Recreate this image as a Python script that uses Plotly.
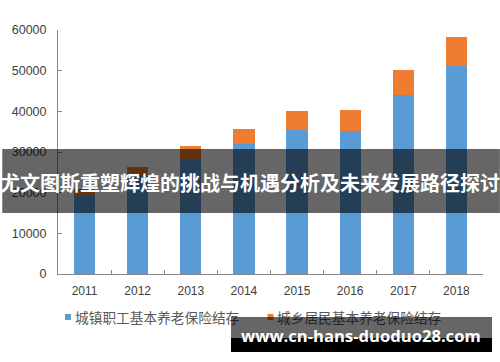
import plotly.graph_objects as go

# ---- data ----
years = ["2011", "2012", "2013", "2014", "2015", "2016", "2017", "2018"]
urban_workers = [19500, 24100, 28400, 31900, 35500, 35100, 43900, 51100]   # 城镇职工基本养老保险结存
rural_residents = [1300, 2200, 3000, 3650, 4500, 5350, 6350, 7100]        # 城乡居民基本养老保险结存
series_names = ["城镇职工基本养老保险结存", "城乡居民基本养老保险结存"]
y_ticks = [0, 10000, 20000, 30000, 40000, 50000, 60000]
banner_text = "尤文图斯重塑辉煌的挑战与机遇分析及未来发展路径探讨"
watermark_text = "www.cn-hans-duoduo28.com"

BLUE = "#5b9bd5"
ORANGE = "#ed7d31"
AXIS = "#898989"
TICKTXT = "#404040"

W, H = 500, 362
L, R, T, B = 56, 17, 30, 88
PW, PH = W - L - R, H - T - B


def px_x(x):
    return (x - L) / PW


def px_y(y):
    return (H - B - y) / PH


fig = go.Figure()
fig.add_trace(go.Bar(x=years, y=urban_workers, name=series_names[0],
                     marker=dict(color=BLUE, line=dict(width=0))))
fig.add_trace(go.Bar(x=years, y=rural_residents, name=series_names[1],
                     marker=dict(color=ORANGE, line=dict(width=0))))

shapes = []
annotations = []

# legend (drawn by hand so the small squares match)
leg = [(series_names[0], BLUE, 63, 73), (series_names[1], ORANGE, 266.5, 276)]
for name, col, sx, tx in leg:
    shapes.append(dict(type="rect", xref="paper", yref="paper",
                       x0=px_x(sx), x1=px_x(sx + 6), y0=px_y(320), y1=px_y(314),
                       fillcolor=col, line=dict(width=0), layer="above"))
    annotations.append(dict(text=name, xref="paper", yref="paper",
                            x=px_x(tx), y=px_y(316.5), xanchor="left", yanchor="middle",
                            showarrow=False, borderpad=0, borderwidth=0,
                            font=dict(family="Noto Sans CJK SC", size=13.7, color="#595959")))

# banner across the middle
shapes.append(dict(type="rect", xref="paper", yref="paper",
                   x0=px_x(0), x1=px_x(500), y0=px_y(213), y1=px_y(149),
                   fillcolor="rgba(0,0,0,0.6)", line=dict(width=0), layer="above"))
annotations.append(dict(text=banner_text, xref="paper", yref="paper",
                        x=px_x(249), y=px_y(182), xanchor="center", yanchor="middle",
                        showarrow=False, borderpad=0, borderwidth=0,
                        font=dict(family="Noto Sans CJK SC", size=20, color="white", weight="bold")))

# watermark box (annotations so it sits over the legend text)
annotations.append(dict(text=" ", xref="paper", yref="paper",
                        x=px_x(230), y=px_y(316.7), xanchor="left", yanchor="top",
                        width=261, height=21.6, showarrow=False, borderpad=0, borderwidth=0,
                        bgcolor="rgba(0,0,0,0.6)"))
annotations.append(dict(text=" ", xref="paper", yref="paper",
                        x=px_x(230), y=px_y(338.3), xanchor="left", yanchor="top",
                        width=261, height=14.4, showarrow=False, borderpad=0, borderwidth=0,
                        bgcolor="black"))
annotations.append(dict(text=watermark_text, xref="paper", yref="paper",
                        x=px_x(360), y=px_y(335), xanchor="center", yanchor="middle",
                        showarrow=False, borderpad=0, borderwidth=0,
                        font=dict(family="Open Sans", size=16.6, color="white", weight="bold")))

fig.update_layout(
    width=W, height=H,
    margin=dict(l=L, r=R, t=T, b=B, pad=0),
    barmode="stack", bargap=0.6,
    paper_bgcolor="white", plot_bgcolor="white",
    showlegend=False,
    font=dict(family="Liberation Sans", size=12, color=TICKTXT),
    shapes=shapes, annotations=annotations,
    xaxis=dict(type="category", showline=True, linecolor=AXIS, linewidth=1,
               ticks="inside", tickson="boundaries", ticklen=4, tickcolor=AXIS,
               showgrid=False, zeroline=False, ticklabelstandoff=6,
               tickfont=dict(family="Liberation Sans", size=12, color=TICKTXT)),
    yaxis=dict(range=[0, 60000], tickvals=y_ticks, tickformat="d",
               showline=True, linecolor=AXIS, linewidth=1,
               ticks="inside", ticklen=4, tickcolor=AXIS,
               showgrid=False, zeroline=False, ticklabelstandoff=8,
               tickfont=dict(family="Liberation Sans", size=12.5, color=TICKTXT)),
)

fig.write_html("out.html", config={"displayModeBar": False},
               post_script="document.body.style.margin='0';document.body.style.padding='0';")
